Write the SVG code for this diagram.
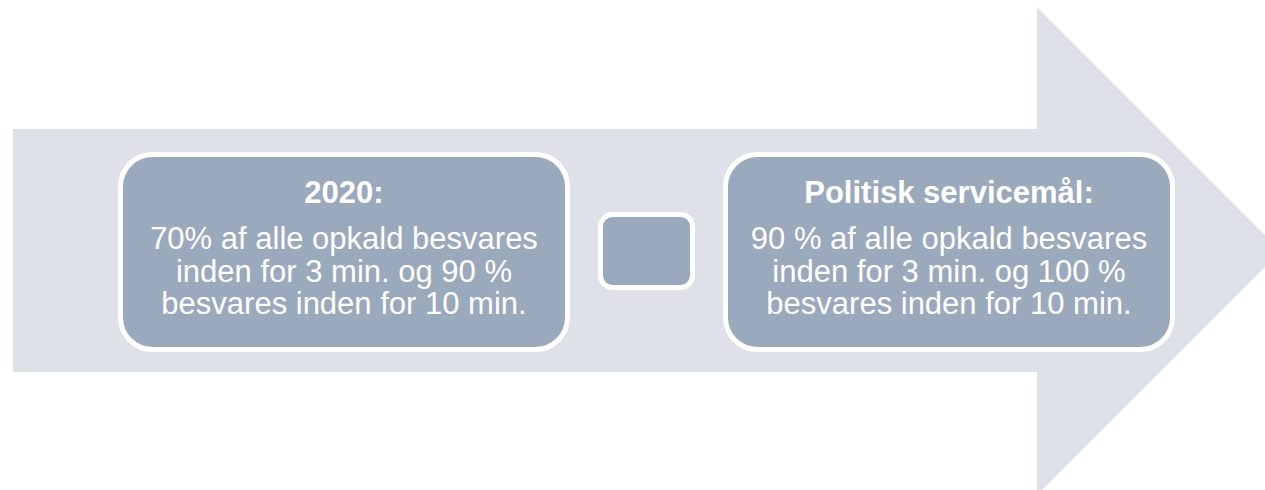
<svg xmlns="http://www.w3.org/2000/svg" width="1265" height="490" viewBox="0 0 1265 490">
<style>
.box{fill:#9AA9BB;stroke:#FFFFFF;stroke-width:5}
.t{font-family:"Liberation Sans",Arial,sans-serif;fill:#FFFFFF;text-anchor:middle;font-size:31px}
.b{font-weight:bold}
</style>
<rect width="1265" height="490" fill="#FFFFFF"/>
<g id="arrow">
<polygon points="13,129 1037,129 1037,7 1281,251 1037,495 1037,372 13,372" fill="#DEE1E8"/>
</g>
<g id="node-2020">
<rect class="box" x="120.5" y="154.5" width="447" height="195" rx="32"/>
<text class="t b" x="344" y="203">2020:</text>
<text class="t" x="344" y="249">70% af alle opkald besvares</text>
<text class="t" x="344" y="281.5">inden for 3 min. og 90 %</text>
<text class="t" x="344" y="313.5">besvares inden for 10 min.</text>
</g>
<g id="node-mid">
<rect class="box" x="600.5" y="214.5" width="92" height="73" rx="12"/>
</g>
<g id="node-goal">
<rect class="box" x="725.5" y="154.5" width="447" height="195" rx="32"/>
<text class="t b" x="949" y="203">Politisk servicemål:</text>
<text class="t" x="949" y="249">90 % af alle opkald besvares</text>
<text class="t" x="949" y="281.5">inden for 3 min. og 100 %</text>
<text class="t" x="949" y="313.5">besvares inden for 10 min.</text>
</g>
<g id="connectors"></g>
</svg>
